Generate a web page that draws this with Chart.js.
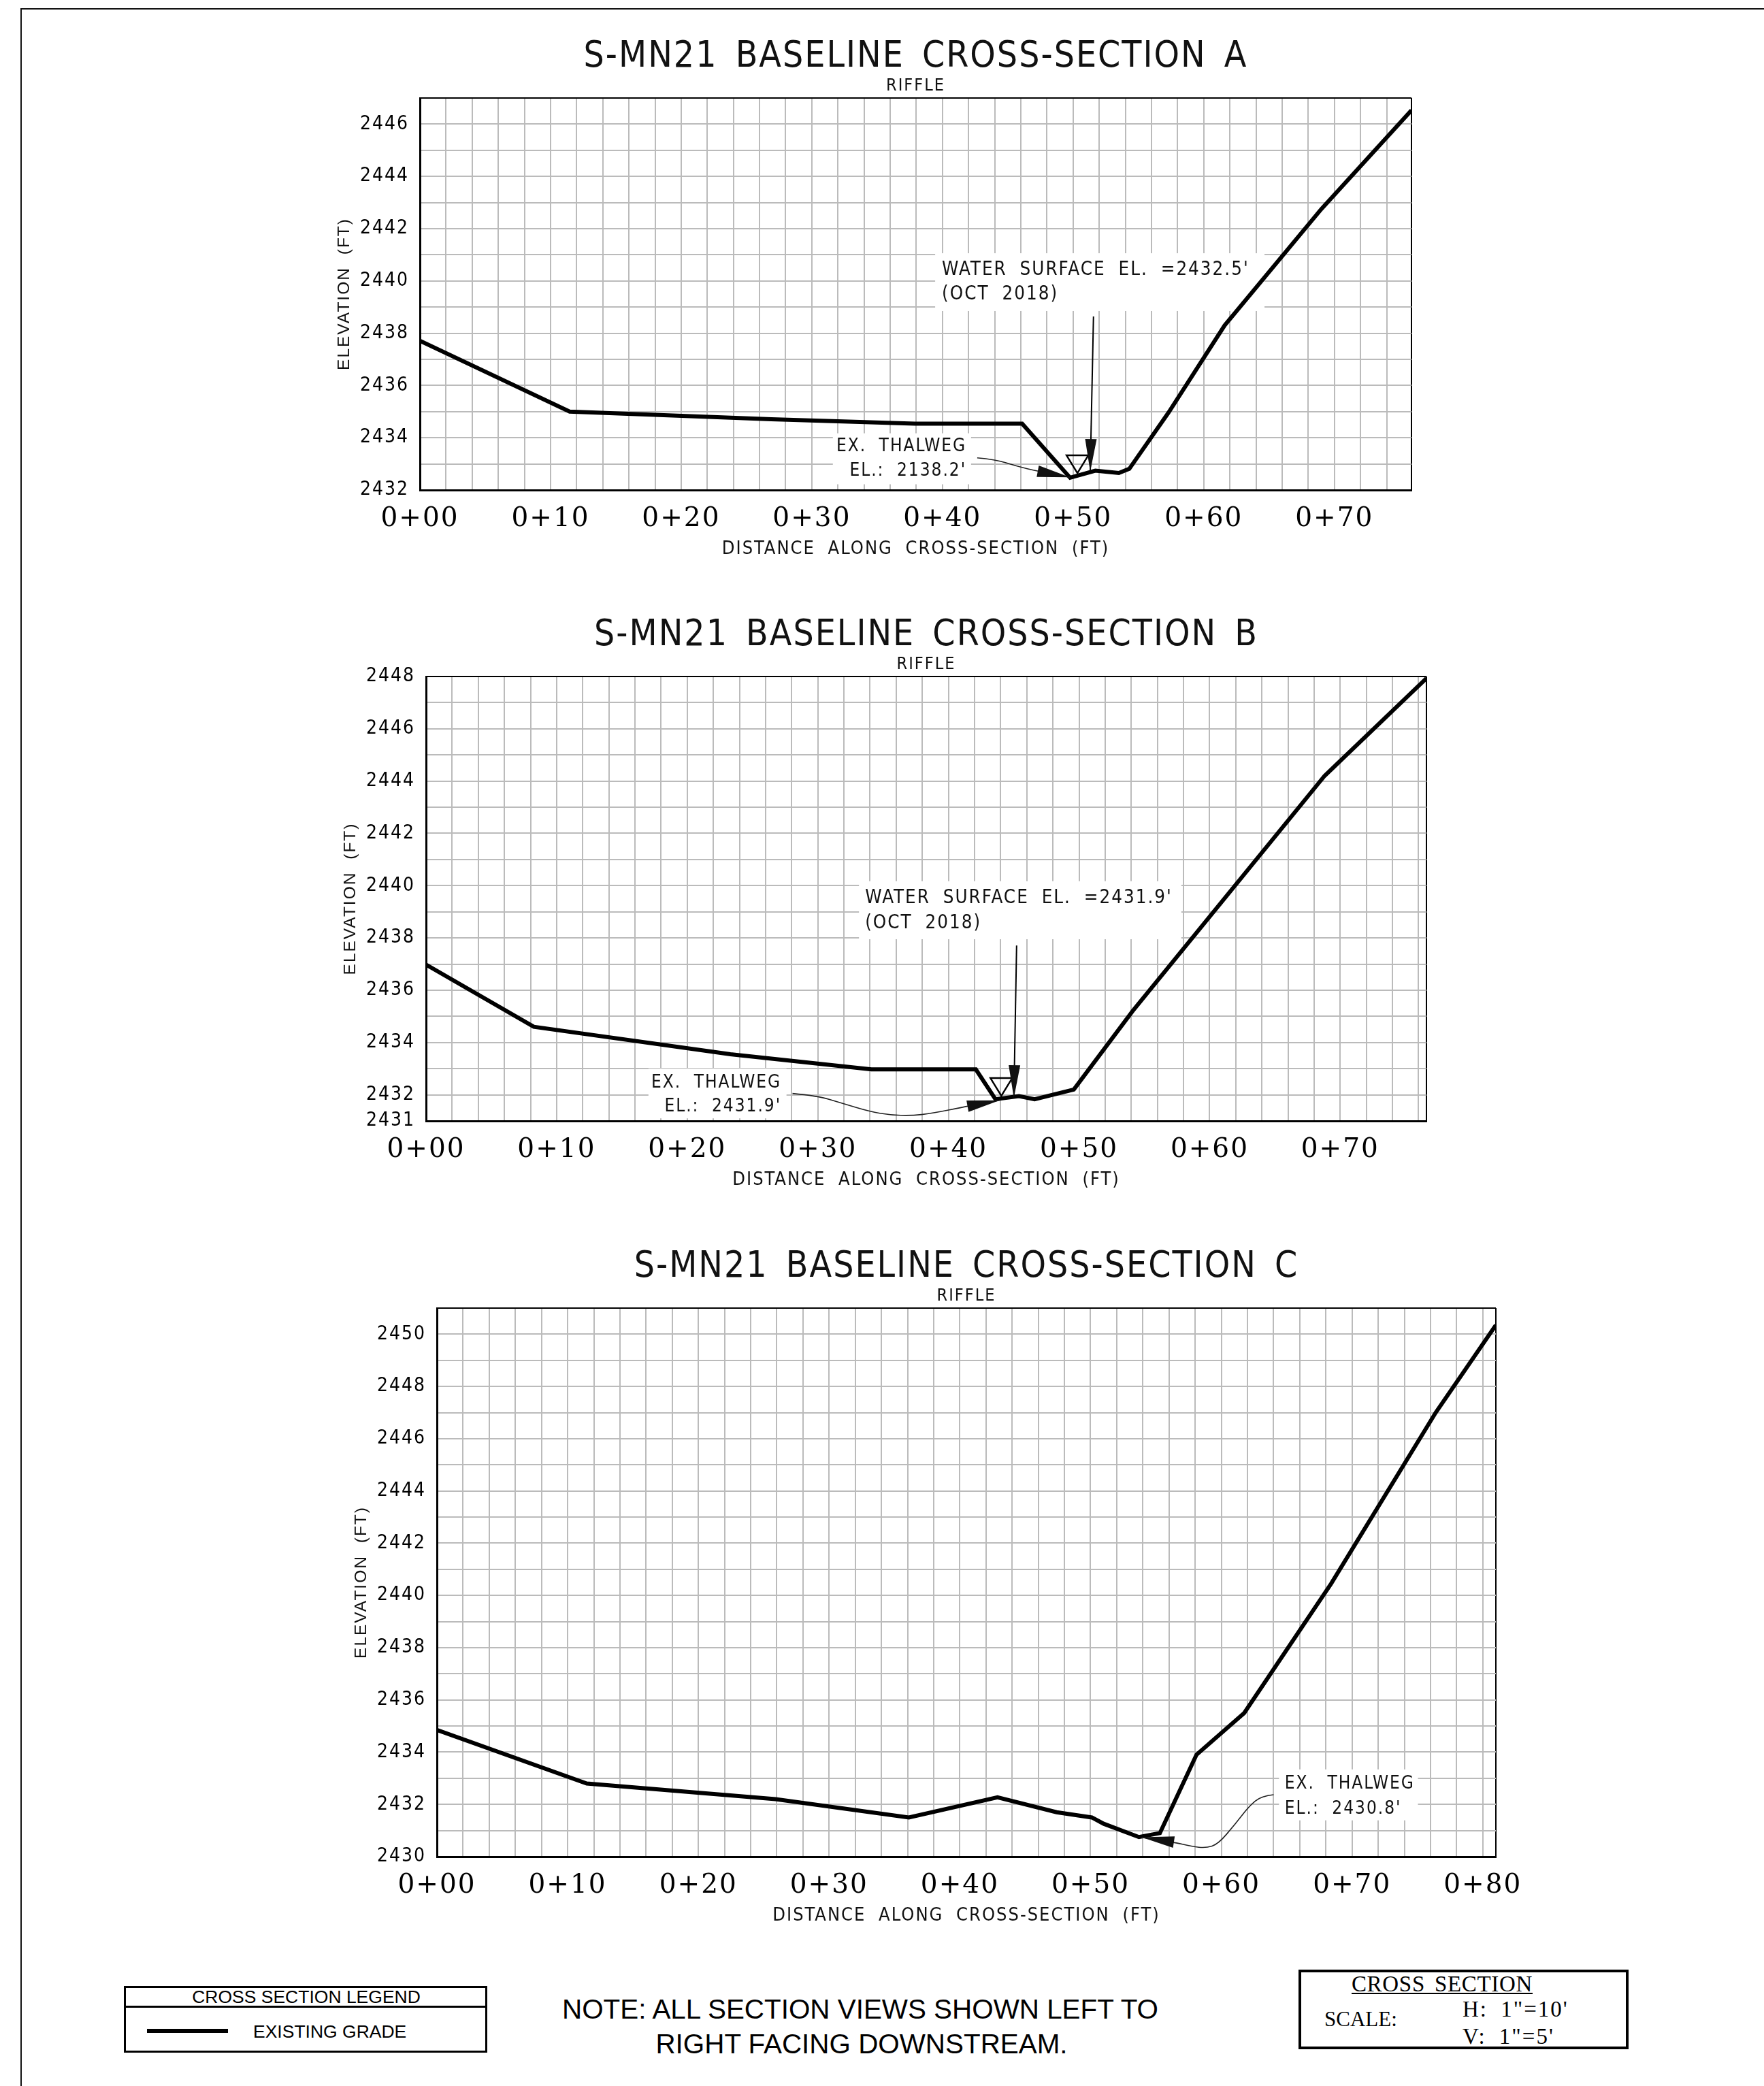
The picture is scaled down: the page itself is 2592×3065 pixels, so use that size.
<!DOCTYPE html>
<html>
<head>
<meta charset="utf-8">
<title>S-MN21 baseline cross-sections</title>
<script src="https://cdn.jsdelivr.net/npm/chart.js@4/dist/chart.umd.min.js"></script>
<style>
html, body { margin: 0; padding: 0; background: #fff; }
body { position: relative; width: 2592px; height: 3065px; overflow: hidden; color: #000; }
canvas { position: absolute; }
.abs { position: absolute; white-space: nowrap; }
#frame { left: 30px; top: 12px; width: 2580px; height: 3080px; border: 2.5px solid #111; }
.box { border: 3px solid #000; box-sizing: border-box; }
.sans { font-family: "Liberation Sans", sans-serif; }
.serif { font-family: "Liberation Serif", serif; }
.center { transform: translate(-50%, -50%); }
.mid { transform: translateY(-50%); }
</style>
</head>
<body>
<div id="frame" class="abs"></div>
<canvas id="sectionA" style="left:440px;top:50px"></canvas>
<canvas id="sectionB" style="left:449px;top:900px"></canvas>
<canvas id="sectionC" style="left:465px;top:1828px"></canvas>

<div class="abs box" style="left:182px;top:2918px;width:534px;height:98px"></div>
<div class="abs" style="left:182px;top:2947px;width:534px;height:3px;background:#000"></div>
<div class="abs sans center" style="left:450px;top:2934px;font-size:26.5px">CROSS SECTION LEGEND</div>
<div class="abs" style="left:216px;top:2981px;width:119px;height:6px;background:#000"></div>
<div class="abs sans mid" style="left:372px;top:2985px;font-size:26.5px">EXISTING GRADE</div>

<div class="abs sans center" style="left:1264px;top:2952px;font-size:40.4px">NOTE: ALL SECTION VIEWS SHOWN LEFT TO</div>
<div class="abs sans center" style="left:1266px;top:3003px;font-size:40.4px">RIGHT FACING DOWNSTREAM.</div>

<div class="abs box" style="left:1908px;top:2894px;width:485px;height:117px;border-width:4px"></div>
<div class="abs serif center" style="left:2119px;top:2915px;font-size:33px;letter-spacing:.7px;word-spacing:5px">CROSS SECTION</div>
<div class="abs" style="left:1986px;top:2928px;width:266px;height:2px;background:#000"></div>
<div class="abs serif mid" style="left:1946px;top:2967px;font-size:31px">SCALE:</div>
<div class="abs serif mid" style="left:2149px;top:2952px;font-size:33px;letter-spacing:2px;word-spacing:9px">H: 1"=10'</div>
<div class="abs serif mid" style="left:2149px;top:2992px;font-size:33px;letter-spacing:2px;word-spacing:9px">V: 1"=5'</div>

<script>
// values
const distA = [0, 11.46, 26.9, 37.9, 46.1, 49.77, 51.7, 53.5, 54.3, 57.3, 61.6, 69, 75.9];
const elevA = [2437.71, 2435, 2434.71, 2434.54, 2434.54, 2432.47, 2432.74, 2432.65, 2432.81, 2434.96, 2438.3, 2442.75, 2446.53];

const distB = [0, 8.25, 23.3, 34.1, 42.1, 43.6, 45.4, 46.6, 49.6, 54.1, 68.8, 76.6];
const elevB = [2436.98, 2434.6, 2433.55, 2432.97, 2432.97, 2431.83, 2431.95, 2431.83, 2432.2, 2435.2, 2444.2, 2447.93];

const distC = [0, 11.46, 25.9, 36.1, 42.88, 47.4, 50.1, 51, 53.7, 55.3, 58.1, 61.75, 68.4, 76.4, 81];
const elevC = [2434.85, 2432.8, 2432.2, 2431.5, 2432.27, 2431.7, 2431.5, 2431.26, 2430.75, 2430.9, 2433.9, 2435.5, 2440.45, 2447, 2450.35];

const stationLabelsAB = ['0+00', '0+10', '0+20', '0+30', '0+40', '0+50', '0+60', '0+70'];
const stationLabelsC = ['0+00', '0+10', '0+20', '0+30', '0+40', '0+50', '0+60', '0+70', '0+80'];
const elevLabelsA = [2432, 2434, 2436, 2438, 2440, 2442, 2444, 2446];
const elevLabelsB = [2431, 2432, 2434, 2436, 2438, 2440, 2442, 2444, 2446, 2448];
const elevLabelsC = [2430, 2432, 2434, 2436, 2438, 2440, 2442, 2444, 2446, 2448, 2450];

// callouts, all in chart units (ft, elevation)
const notesA = {
    masks: [[39.44, 2441.06, 64.65, 2438.85], [31.61, 2434.17, 42.19, 2432.22]],
    labels: [
        ["WATER SURFACE EL. =2432.5'", 39.96, 2440.42, 'left', 27.5],
        ['(OCT 2018)', 39.96, 2439.47, 'left', 27.5],
        ['EX. THALWEG', 41.84, 2433.65, 'right', 26],
        ["EL.: 2138.2'", 41.84, 2432.72, 'right', 26],
    ],
    water: [50.33, 2432.65],
    pointer: [[51.56, 2438.64], [51.31, 2432.7]],
    leader: [[42.66, 2433.23], [44.05, 2433.17], [45.68, 2432.91], [47.31, 2432.72], [49.75, 2432.49]],
};
const notesB = {
    masks: [[33.15, 2440.17, 57.83, 2437.95], [17.03, 2433, 27.6, 2431.1]],
    labels: [
        ["WATER SURFACE EL. =2431.9'", 33.62, 2439.52, 'left', 27.5],
        ['(OCT 2018)', 33.62, 2438.56, 'left', 27.5],
        ['EX. THALWEG', 27.21, 2432.44, 'right', 26],
        ["EL.: 2431.9'", 27.21, 2431.53, 'right', 26],
    ],
    water: [44.05, 2431.96],
    pointer: [[45.22, 2437.71], [45.01, 2431.88]],
    leader: [[28.06, 2432.05], [29.97, 2431.96], [31.83, 2431.68], [33.96, 2431.36], [35.55, 2431.23],
        [37.15, 2431.2], [38.74, 2431.29], [41.54, 2431.57], [43.92, 2431.79]],
};
const notesC = {
    masks: [[64.41, 2433.34, 75.04, 2431.39]],
    labels: [
        ['EX. THALWEG', 64.85, 2432.78, 'left', 26],
        ["EL.: 2430.8'", 64.85, 2431.82, 'left', 26],
    ],
    leader: [[64, 2432.37], [63.07, 2432.32], [62.15, 2431.95], [61.08, 2431.26], [59.76, 2430.48],
        [58.82, 2430.33], [57.76, 2430.39], [56.3, 2430.56], [53.9, 2430.74]],
};

const cadFont = '"DejaVu Sans Condensed", "DejaVu Sans", sans-serif';

function gridValues(min, max, step) {
    const values = [];
    for (let v = min; v < max; v += step) {
        values.push(v);
    }
    values.push(max);
    return values;
}

function drawHead(ctx, from, to, length, width) {
    const angle = Math.atan2(to.y - from.y, to.x - from.x);
    ctx.save();
    ctx.translate(to.x, to.y);
    ctx.rotate(angle);
    ctx.fillStyle = '#111';
    ctx.beginPath();
    ctx.moveTo(0, 0);
    ctx.lineTo(-length, -width / 2);
    ctx.lineTo(-length, width / 2);
    ctx.closePath();
    ctx.fill();
    ctx.restore();
}

const sectionNotes = {
    id: 'sectionNotes',
    beforeDraw(chart) {
        chart.ctx.letterSpacing = '2px';
        chart.ctx.wordSpacing = '9px';
    },
    beforeDatasetsDraw(chart, args, opts) {
        const { ctx, scales: { x, y } } = chart;
        ctx.fillStyle = '#fff';
        (opts.masks || []).forEach(([x0, y0, x1, y1]) => {
            ctx.fillRect(x.getPixelForValue(x0), y.getPixelForValue(y0),
                x.getPixelForValue(x1) - x.getPixelForValue(x0), y.getPixelForValue(y1) - y.getPixelForValue(y0));
        });
    },
    afterDatasetsDraw(chart, args, opts) {
        const { ctx, scales: { x, y } } = chart;
        const toPx = ([a, b]) => ({ x: x.getPixelForValue(a), y: y.getPixelForValue(b) });
        ctx.save();
        ctx.fillStyle = '#111';
        ctx.textBaseline = 'middle';
        (opts.labels || []).forEach(([text, a, b, align, size]) => {
            ctx.font = size + 'px ' + cadFont;
            ctx.textAlign = align;
            ctx.fillText(text, x.getPixelForValue(a), y.getPixelForValue(b));
        });

        if (opts.water) {
            const tip = toPx(opts.water);
            ctx.strokeStyle = '#000';
            ctx.lineWidth = 2.5;
            ctx.beginPath();
            ctx.moveTo(tip.x, tip.y);
            ctx.lineTo(tip.x - 16, tip.y - 26);
            ctx.lineTo(tip.x + 16, tip.y - 26);
            ctx.closePath();
            ctx.stroke();
        }
        if (opts.pointer) {
            const [from, to] = opts.pointer.map(toPx);
            ctx.strokeStyle = '#000';
            ctx.lineWidth = 2;
            ctx.beginPath();
            ctx.moveTo(from.x, from.y);
            ctx.lineTo(to.x, to.y);
            ctx.stroke();
            drawHead(ctx, from, to, 48, 17);
        }
        if (opts.leader) {
            const pts = opts.leader.map(toPx);
            ctx.strokeStyle = '#222';
            ctx.lineWidth = 1.6;
            ctx.beginPath();
            ctx.moveTo(pts[0].x, pts[0].y);
            for (let i = 1; i < pts.length - 2; i++) {
                ctx.quadraticCurveTo(pts[i].x, pts[i].y, (pts[i].x + pts[i + 1].x) / 2, (pts[i].y + pts[i + 1].y) / 2);
            }
            ctx.quadraticCurveTo(pts[pts.length - 2].x, pts[pts.length - 2].y, pts[pts.length - 1].x, pts[pts.length - 1].y);
            ctx.stroke();
            drawHead(ctx, pts[pts.length - 2], pts[pts.length - 1], 48, 17);
        }
        ctx.restore();
    },
};

Chart.register(sectionNotes);

function drawSection(id, letter, dist, elev, opts) {
    const canvas = document.getElementById(id);
    canvas.width = opts.width;
    canvas.height = opts.height;
    return new Chart(canvas, {
        type: 'line',
        data: {
            datasets: [{
                label: 'EXISTING GRADE',
                data: dist.map((d, i) => ({ x: d, y: elev[i] })),
                borderColor: '#000',
                borderWidth: 6,
                borderJoinStyle: 'miter',
                pointRadius: 0,
                tension: 0,
            }],
        },
        options: {
            responsive: false,
            animation: false,
            devicePixelRatio: 1,
            layout: { padding: { right: 177 } },
            plugins: {
                legend: { display: false },
                tooltip: { enabled: false },
                title: {
                    display: true,
                    fullSize: false,
                    text: 'S-MN21 BASELINE CROSS-SECTION ' + letter,
                    color: '#111',
                    font: { family: cadFont, size: 53, weight: 'normal', lineHeight: 1 },
                    padding: { top: 8, bottom: 2 },
                },
                subtitle: {
                    display: true,
                    fullSize: false,
                    text: 'RIFFLE',
                    color: '#111',
                    font: { family: cadFont, size: 25, weight: 'normal', lineHeight: 1 },
                    padding: { top: 1, bottom: 5 },
                },
                sectionNotes: opts.notes,
            },
            scales: {
                x: {
                    type: 'linear',
                    min: 0,
                    max: dist[dist.length - 1],
                    afterFit(scale) { scale.height = 100; },
                    afterBuildTicks(scale) {
                        scale.ticks = gridValues(0, scale.max, 2).map((value) => ({ value }));
                    },
                    grid: {
                        color: (c) => (c.tick && c.tick.value === c.chart.scales.x.max ? '#000' : '#bbb'),
                        lineWidth: 2,
                        drawTicks: false,
                    },
                    border: { color: '#000', width: 3 },
                    ticks: {
                        autoSkip: false,
                        maxRotation: 0,
                        padding: 23,
                        color: '#000',
                        font: { family: '"DejaVu Serif"', size: 39, lineHeight: 1 },
                        callback: (v) => (v % 10 === 0 && opts.stationLabels[v / 10]) || '',
                    },
                    title: {
                        display: true,
                        text: 'DISTANCE ALONG CROSS-SECTION (FT)',
                        color: '#111',
                        font: { family: cadFont, size: 27, lineHeight: 1 },
                        padding: { top: 8, bottom: 0 },
                    },
                },
                y: {
                    type: 'linear',
                    min: opts.yMin,
                    max: opts.yMax,
                    afterFit(scale) { scale.width = 177; },
                    afterBuildTicks(scale) {
                        scale.ticks = gridValues(opts.yMin, opts.yMax, 1).map((value) => ({ value }));
                    },
                    grid: {
                        color: (c) => (c.tick && c.tick.value === opts.yMax ? '#000' : '#bbb'),
                        lineWidth: 2,
                        drawTicks: false,
                    },
                    border: { color: '#000', width: 3 },
                    ticks: {
                        autoSkip: false,
                        padding: 16,
                        color: '#000',
                        font: { family: cadFont, size: 28, lineHeight: 1 },
                        callback: (v) => (opts.elevLabels.includes(v) ? String(v) : ''),
                    },
                    title: {
                        display: true,
                        text: 'ELEVATION (FT)',
                        color: '#111',
                        font: { family: '"Liberation Sans"', size: 24.5, lineHeight: 1 },
                        padding: { top: 54, bottom: 0 },
                    },
                },
            },
        },
    });
}

drawSection('sectionA', 'A', distA, elevA, {
    width: 1811, height: 770, yMin: 2432, yMax: 2447,
    stationLabels: stationLabelsAB, elevLabels: elevLabelsA, notes: notesA,
});
drawSection('sectionB', 'B', distB, elevB, {
    width: 1824, height: 847, yMin: 2431, yMax: 2448,
    stationLabels: stationLabelsAB, elevLabels: elevLabelsB, notes: notesB,
});
drawSection('sectionC', 'C', distC, elevC, {
    width: 1910, height: 1000, yMin: 2430, yMax: 2451,
    stationLabels: stationLabelsC, elevLabels: elevLabelsC, notes: notesC,
});
</script>
</body>
</html>
